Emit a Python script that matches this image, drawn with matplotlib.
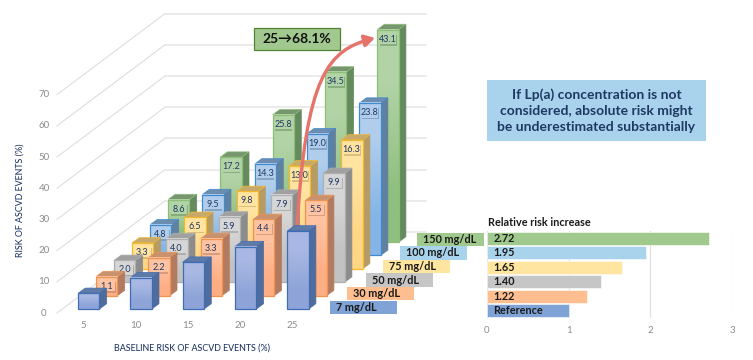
import numpy as np
import matplotlib
matplotlib.use("Agg")
import matplotlib.pyplot as plt
from matplotlib.colors import to_rgb
from matplotlib.patches import Polygon, Rectangle, FancyArrowPatch
from matplotlib.path import Path

plt.rcParams['font.family'] = ['Lato', 'DejaVu Sans']

baseline = [5, 10, 15, 20, 25]
levels = ['7 mg/dL', '30 mg/dL', '50 mg/dL', '75 mg/dL', '100 mg/dL', '150 mg/dL']
added_30 = [1.1, 2.2, 3.3, 4.4, 5.5]
added_50 = [2.0, 4.0, 5.9, 7.9, 9.9]
added_75 = [3.3, 6.5, 9.8, 13.0, 16.3]
added_100 = [4.8, 9.5, 14.3, 19.0, 23.8]
added_150 = [8.6, 17.2, 25.8, 34.5, 43.1]
added = [None, added_30, added_50, added_75, added_100, added_150]
risk_ticks = [0, 10, 20, 30, 40, 50, 60, 70]

rr_labels = ['Reference', '1.22', '1.40', '1.65', '1.95', '2.72']
rr_values = [1.0, 1.22, 1.40, 1.65, 1.95, 2.72]

# front top, front bottom, edge, side, top for each concentration
colors = [
    ('#A8B8E2', '#8EA4D8', '#3F6DB5', '#4F6C9E', '#5F7AA6'),
    ('#FFC3A2', '#FFAE84', '#EE9350', '#B27B60', '#C8926F'),
    ('#D6D6D6', '#C2C2C2', '#AFAFAF', '#8C8C8C', '#A0A0A0'),
    ('#FFE3A0', '#FFD684', '#F3B82E', '#B69B64', '#C7A96C'),
    ('#B0CDEC', '#84B5E6', '#3F8BD0', '#60809F', '#6C8CB0'),
    ('#B2D3A6', '#90C080', '#8CBF76', '#648A5E', '#77966F'),
]
ribbon_colors = ['#7FA3D6', '#FFBE8F', '#C6C6C6', '#FFE5A0', '#A9D3EC', '#A0C98D']
navy = '#1F3864'

fig = plt.figure(figsize=(7.53, 3.6), dpi=100)
ax = fig.add_axes([0, 0, 1, 1])
ax.axis('off')

# oblique projection of the chart, in pixels
x0, col_step, bar_w = 78, 52.3, 21.5
y0, px_per_unit = 309, 3.12
row_dx, row_dy = 18, -13.4
side_dx, side_dy = 7.2, -5.3


def draw_bar(col, row, value, label, z):
    ftop, fbot, edge, side, top = colors[row]
    left = x0 + col * col_step + row * row_dx
    bottom = y0 + row * row_dy
    h = value * px_per_unit
    up = bottom - h
    right = left + bar_w
    ax.add_patch(Polygon([(right, bottom), (right, up), (right + side_dx, up + side_dy),
                          (right + side_dx, bottom + side_dy)], fc=side, ec=side, lw=0.5, zorder=z))
    ax.add_patch(Polygon([(left, up), (right, up), (right + side_dx, up + side_dy),
                          (left + side_dx, up + side_dy)], fc=top, ec=edge, lw=0.5, zorder=z))
    grad = np.array([[to_rgb(ftop)], [to_rgb(fbot)]])
    ax.imshow(grad, extent=(left, right, bottom, up), aspect='auto', interpolation='bilinear', zorder=z)
    ax.add_patch(Rectangle((left, up), bar_w, h, fc='none', ec=edge, lw=0.9, zorder=z))
    if label is not None:
        cx, cy = left + bar_w / 2, up + 9.5
        ax.add_patch(Rectangle((cx - 8, cy - 4.5), 17, 11, fc=side, ec='none', alpha=0.5, zorder=z))
        ax.add_patch(Rectangle((cx - 9, cy - 5.5), 17.5, 10.5, fc=ftop, ec='none', zorder=z))
        ax.text(cx - 0.3, cy, f'{label:.1f}', ha='center', va='center', fontsize=6.5, color=navy, zorder=z)


# wall and floor grid
for t in risk_ticks:
    y = 313 - t * px_per_unit
    ax.plot([57, 165], [y, y - 81], color='#DEDEDE', lw=0.8, zorder=1)
    ax.plot([165, 426], [y - 81, y - 81], color='#E6E6E6', lw=1.1, zorder=1)
    ax.text(44, y, str(t), ha='center', va='center', fontsize=7, color='#8C8C8C')

for c, b in enumerate(baseline):
    ax.text(83 + c * col_step, 325, str(b), ha='center', va='center', fontsize=7, color='#8C8C8C')

z = 2
for row in range(5, -1, -1):
    if row == 0:
        # the arrow passes behind the front row only
        curve = Path([(297, 228), (306, 75), (328, 50), (375, 38)],
                     [Path.MOVETO, Path.CURVE4, Path.CURVE4, Path.CURVE4])
        ax.add_patch(FancyArrowPatch(path=curve, arrowstyle='-|>,head_length=6,head_width=3.5',
                                     color='#E5736B', lw=2.4, zorder=z))
        z += 1
    for col, b in enumerate(baseline):
        if row == 0:
            draw_bar(col, row, b, None, z)
        else:
            draw_bar(col, row, b + added[row][col], added[row][col], z)
        z += 1

ax.text(21, 200, 'RISK OF ASCVD EVENTS (%)', rotation=90, ha='center', va='center',
        fontsize=6.4, fontweight='medium', color=navy)
ax.text(192, 349, 'BASELINE RISK OF ASCVD EVENTS (%)', ha='center', va='center',
        fontsize=6.4, fontweight='medium', color=navy)

# ribbons linking the bars to the relative risk panel
ribbon_left = [330, 347, 366, 383, 400, 417]
for i, lev in enumerate(levels):
    top_y = 300.5 - i * 13.6
    ax.add_patch(Rectangle((ribbon_left[i], top_y), 67, 13.4, fc=ribbon_colors[i], ec='none', zorder=z))
    ax.text(ribbon_left[i] + 6.5, top_y + 6.8, lev, ha='left', va='center', fontsize=7.8,
            fontweight='bold', color='#1A1A1A', zorder=z + 1)

ax.add_patch(Rectangle((254, 28), 86, 22, fc='#A1C98F', ec='#548235', lw=0.9, zorder=z + 2))
ax.text(297, 39, '25→68.1%', ha='center', va='center', fontsize=10, fontweight='bold',
        color='#111111', zorder=z + 3)

ax.add_patch(Rectangle((487, 80), 219, 61, fc='#A9D3EC', ec='none', zorder=z))
ax.text(596.5, 110.5, 'If Lp(a) concentration is not\nconsidered, absolute risk might\nbe underestimated substantially',
        ha='center', va='center', fontsize=10, fontweight='bold', color=navy, linespacing=1.42, zorder=z + 1)

ax.text(488, 223, 'Relative risk increase', ha='left', va='center', fontsize=7.8,
        fontweight='bold', color='#1A1A1A')

ax.set_xlim(0, 753)
ax.set_ylim(360, 0)

# relative risk panel
ax2 = fig.add_axes([487 / 753, 1 - 318 / 360, (732 - 487) / 753, (318 - 231) / 360])
ax2.patch.set_alpha(0)
ypos = np.arange(len(rr_values))
ax2.barh(ypos, rr_values, height=0.92, color=ribbon_colors, edgecolor='white', linewidth=0.4, zorder=2)
for i, lab in enumerate(rr_labels):
    ax2.text(0.08, i, lab, ha='left', va='center', fontsize=7.8, fontweight='bold',
             color='#1A1A1A', zorder=3)
ax2.set_xlim(0, 3)
ax2.set_ylim(-0.5, 5.5)
ax2.set_xticks([0, 1, 2, 3])
ax2.set_yticks([])
ax2.grid(axis='x', color='#DEDEDE', lw=0.8, zorder=0)
ax2.set_axisbelow(True)
for s in ax2.spines.values():
    s.set_visible(False)
ax2.tick_params(axis='x', length=0, labelsize=7, labelcolor='#8C8C8C', pad=6)

fig.savefig('out.png', dpi=100)
